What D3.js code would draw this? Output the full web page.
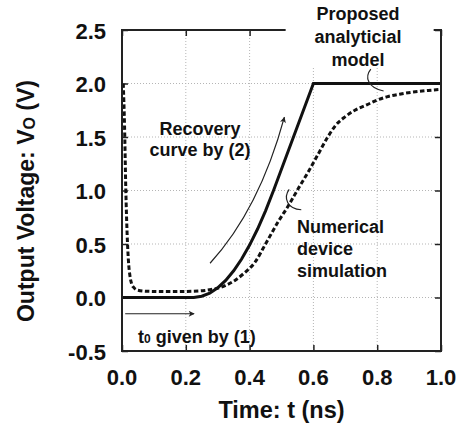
<!DOCTYPE html>
<html>
<head>
<meta charset="utf-8">
<script src="https://cdn.jsdelivr.net/npm/d3@7/dist/d3.min.js"></script>
<style>
  html, body { margin: 0; padding: 0; background: #fff; }
  svg { display: block; }
  text { font-family: "Liberation Sans", Arial, Helvetica, sans-serif; font-weight: bold; fill: #111; }
</style>
</head>
<body>
<svg id="chart" width="459" height="428"></svg>
<script>
// ---- data ----
const xTicks = [0.0, 0.2, 0.4, 0.6, 0.8, 1.0];
const xTickLabels = ["0.0", "0.2", "0.4", "0.6", "0.8", "1.0"];
const yTicks = [-0.5, 0.0, 0.5, 1.0, 1.5, 2.0, 2.5];
const yTickLabels = ["-0.5", "0.0", "0.5", "1.0", "1.5", "2.0", "2.5"];

// Proposed analytical model (solid)
const modelT = [0.0, 0.225, 0.25, 0.275, 0.3, 0.325, 0.35, 0.375, 0.4, 0.425, 0.45, 0.475, 0.6, 1.0];
const modelV = [0.0, 0.0, 0.012, 0.04, 0.09, 0.16, 0.25, 0.36, 0.49, 0.64, 0.81, 1.0, 2.0, 2.0];

// Numerical device simulation (dashed)
const simT = [0.004, 0.008, 0.012, 0.016, 0.02, 0.025, 0.03, 0.038, 0.05, 0.08, 0.15, 0.22, 0.26, 0.28, 0.31, 0.33, 0.354, 0.38, 0.417, 0.45, 0.49, 0.52, 0.553, 0.585, 0.615, 0.645, 0.67, 0.7, 0.73, 0.767, 0.8, 0.83, 0.87, 0.913, 0.96, 1.0];
const simV = [2.0, 1.6, 1.0, 0.6, 0.35, 0.2, 0.13, 0.09, 0.068, 0.058, 0.055, 0.058, 0.066, 0.075, 0.095, 0.12, 0.16, 0.22, 0.33, 0.5, 0.71, 0.85, 1.02, 1.18, 1.34, 1.5, 1.61, 1.69, 1.75, 1.8, 1.845, 1.875, 1.9, 1.92, 1.935, 1.945];

// ---- layout ----
const svg = d3.select("#chart");
const x = d3.scaleLinear().domain([0, 1]).range([122, 441]);
const y = d3.scaleLinear().domain([-0.5, 2.5]).range([351, 30]);

const defs = svg.append("defs");
defs.append("marker").attr("id", "arr")
  .attr("viewBox", "0 0 10 10").attr("refX", 9).attr("refY", 5)
  .attr("markerWidth", 9).attr("markerHeight", 6).attr("markerUnits", "userSpaceOnUse")
  .attr("orient", "auto")
  .append("path").attr("d", "M0,0 L10,5 L0,10 L2.5,5 Z").attr("fill", "#222");

// grid
const gGrid = svg.append("g").attr("stroke", "#b5b5b5").attr("stroke-width", 1).attr("stroke-dasharray", "1,2");
gGrid.selectAll("line.vx").data(xTicks.slice(1, -1)).join("line")
  .attr("x1", d => x(d)).attr("x2", d => x(d)).attr("y1", y(-0.5)).attr("y2", y(2.5));
gGrid.selectAll("line.hy").data(yTicks.slice(1, -1)).join("line")
  .attr("x1", x(0)).attr("x2", x(1)).attr("y1", d => y(d)).attr("y2", d => y(d));

// ticks (inward, all four sides)
const tickLen = 6;
const axB = d3.axisBottom(x).tickValues(xTicks).tickSize(-tickLen).tickFormat("");
const axT = d3.axisTop(x).tickValues(xTicks).tickSize(-tickLen).tickFormat("");
const axL = d3.axisLeft(y).tickValues(yTicks).tickSize(-tickLen).tickFormat("");
const axR = d3.axisRight(y).tickValues(yTicks).tickSize(-tickLen).tickFormat("");
[[axB, `translate(0,${y(-0.5)})`], [axT, `translate(0,${y(2.5)})`], [axL, `translate(${x(0)},0)`], [axR, `translate(${x(1)},0)`]].forEach(([ax, tr]) => {
  const g = svg.append("g").attr("transform", tr).call(ax);
  g.select(".domain").remove();
  g.selectAll(".tick line").attr("stroke", "#222").attr("stroke-width", 1.5);
});

// white label box (hides grid/frame behind "Proposed analytical model")
svg.append("rect")
  .attr("x", x(0.513)).attr("y", 0)
  .attr("width", x(0.977) - x(0.513)).attr("height", y(2.15))
  .attr("fill", "#fff");

// curves
const line = d3.line().x(d => x(d[0])).y(d => y(d[1]));
svg.append("path").datum(simT.map((t, i) => [t, simV[i]]))
  .attr("d", line.curve(d3.curveMonotoneX))
  .attr("fill", "none").attr("stroke", "#111").attr("stroke-width", 3).attr("stroke-dasharray", "4.5,2.5");
svg.append("path").datum(modelT.map((t, i) => [t, modelV[i]]))
  .attr("d", d3.line().x(d => x(d[0])).y(d => y(d[1])))
  .attr("fill", "none").attr("stroke", "#111").attr("stroke-width", 3).attr("stroke-linejoin", "miter");

// frame
const frame = svg.append("g").attr("stroke", "#222").attr("stroke-width", 2).attr("fill", "none");
frame.append("path").attr("d",
  `M${x(0.513)},${y(2.5)} L${x(0)},${y(2.5)} L${x(0)},${y(-0.5)} L${x(1)},${y(-0.5)} L${x(1)},${y(2.5)} L${x(0.977)},${y(2.5)}`);

// tick labels
svg.append("g").selectAll("text").data(xTicks).join("text")
  .attr("x", d => x(d)).attr("y", 385).attr("text-anchor", "middle")
  .attr("font-size", 22).text((d, i) => xTickLabels[i]);
svg.append("g").selectAll("text").data(yTicks).join("text")
  .attr("x", 106).attr("y", d => y(d) + 8.5).attr("text-anchor", "end")
  .attr("font-size", 22).text((d, i) => yTickLabels[i]);

// axis titles
svg.append("text").attr("x", 281.5).attr("y", 418).attr("text-anchor", "middle")
  .attr("font-size", 23.5).text("Time: t (ns)");
const yt = svg.append("text").attr("transform", "translate(33.5,201) rotate(-90)")
  .attr("text-anchor", "middle").attr("font-size", 23);
yt.append("tspan").text("Output Voltage: V");
yt.append("tspan").attr("font-size", 16).attr("dy", 1.5).text("O");
yt.append("tspan").attr("dy", -1.5).text(" (V)");

// annotations
const ann = svg.append("g").attr("font-size", 18);
const prop = ann.append("text").attr("text-anchor", "middle");
["Proposed", "analyticial", "model"].forEach((s, i) => prop.append("tspan").attr("x", 358).attr("y", 20 + i * 22.8).text(s));
const rec = ann.append("text").attr("text-anchor", "middle");
["Recovery", "curve by (2)"].forEach((s, i) => rec.append("tspan").attr("x", 200).attr("y", 134.5 + i * 21.5).text(s));
const num = ann.append("text").attr("text-anchor", "start");
["Numerical", "device", "simulation"].forEach((s, i) => num.append("tspan").attr("x", 297).attr("y", 232.5 + i * 22).text(s));
const t0 = ann.append("text").attr("x", 138).attr("y", 343);
t0.append("tspan").text("t");
t0.append("tspan").attr("font-size", 12).text("0");
t0.append("tspan").text(" given by (1)");

// arrows
svg.append("line")
  .attr("x1", x(0.01)).attr("y1", y(-0.152)).attr("x2", x(0.226)).attr("y2", y(-0.152))
  .attr("stroke", "#222").attr("stroke-width", 1.2).attr("marker-end", "url(#arr)");
svg.append("path")
  .attr("d", `M${x(0.276)},${y(0.32)} Q${x(0.43)},${y(0.82)} ${x(0.509)},${y(1.685)}`)
  .attr("fill", "none").attr("stroke", "#222").attr("stroke-width", 1.2).attr("marker-end", "url(#arr)");

// callout squiggles
const sq = svg.append("g").attr("fill", "none").attr("stroke", "#222").attr("stroke-width", 1.2);
sq.append("path").attr("d", `M${x(0.78)},${y(2.135)} C${x(0.76)},${y(2.06)} ${x(0.77)},${y(1.96)} ${x(0.82)},${y(1.93)}`);
sq.append("path").attr("d", `M${x(0.524)},${y(1.01)} C${x(0.505)},${y(0.93)} ${x(0.518)},${y(0.83)} ${x(0.562)},${y(0.82)}`);
</script>
</body>
</html>
